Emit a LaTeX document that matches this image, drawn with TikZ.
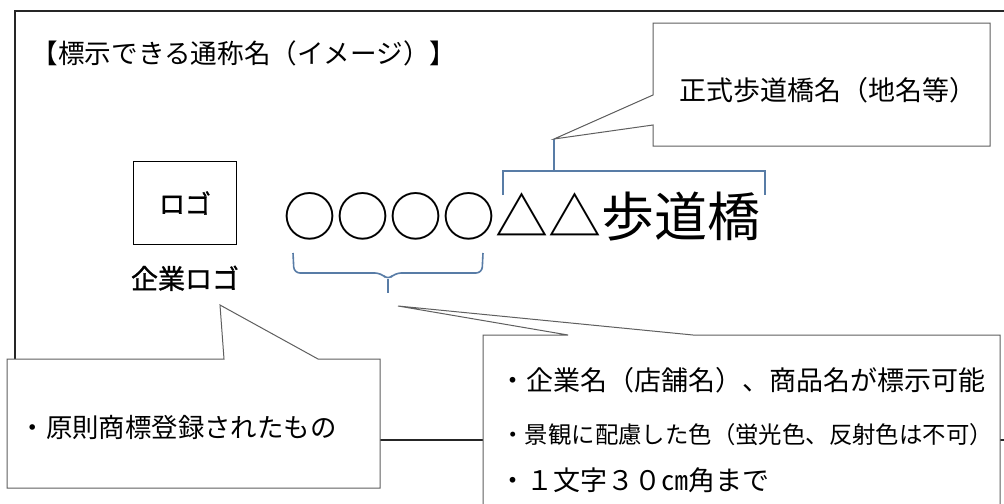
\documentclass[tikz,border=0pt]{standalone}
\usepackage{fontspec}
\setmainfont{Noto Sans CJK JP}
\newfontfamily\semibold[FakeBold=1.2]{Noto Sans CJK JP}
\usetikzlibrary{positioning}
\definecolor{bracecol}{RGB}{88,124,166}
\definecolor{linecol}{RGB}{95,95,95}
\tikzstyle{frame}=[draw=black!85, line width=1.1pt]
\tikzstyle{bubble}=[draw=linecol, fill=white, line width=0.5pt]
\tikzstyle{txt}=[inner sep=0pt, text=black]
\tikzstyle{bracket}=[draw=bracecol, line width=0.8pt]
\newcommand{\fs}[1]{\fontsize{#1}{1.2\dimexpr#1\relax}\selectfont}
\newcommand{\txt}{\node[txt]}

\begin{document}
\begin{tikzpicture}[x=0.5pt, y=-0.5pt]
\useasboundingbox (0,0) rectangle (1004,503);
\fill[white] (0,0) rectangle (1004,503);
\draw[frame] (15,11) rectangle (1012,440);
\txt (title) at (244,53) {\fs{13.3pt}【標示できる通称名（イメージ）】};
% logo
\node[draw=black, line width=0.8pt, minimum width=51.5pt, minimum height=41.5pt,
      inner sep=0pt] (logo) at (185,203) {\fs{13pt}\semibold ロゴ};
\txt (logoname) [below=10pt of logo] {\fs{13.5pt}\semibold 企業ロゴ};
\txt (name) at (522,217) {\fs{26.5pt}○○○○△△歩道橋};
% brackets
\coordinate (bl) at (503,195);
\coordinate (br) at (765,195);
\coordinate (bs) at (554,139);
\coordinate (bt) at (388,293);
\draw[bracket] (bl) |- (br |- 0,171) -- (br);
\draw[bracket] (bs |- 0,171) -- (bs);
\draw[bracket, rounded corners=3pt] (293,253) -- (294,273) -- (381,273)
    -- (bt |- 0,280) -- (395,273) -- (482,273) -- (483,253);
\draw[bracket] (bt |- 0,279) -- (bt);
% upper callout
\coordinate (tipA) at (bs);
\draw[bubble] (653,23) -- (990,23) -- (990,146) -- (653,146) -- (653,125)
    -- (tipA) -- (653,95) -- cycle;
\txt (formal) at (828,90) {\fs{13.5pt}正式歩道橋名（地名等）};
% lower left callout
\coordinate (tipB) at (220,305);
\draw[bubble] (7,359) -- (224,359) -- (tipB) -- (318,359) -- (380,359)
    -- (380,488) -- (7,488) -- cycle;
\txt (rule) at (178,427) {\fs{13.2pt}・原則商標登録されたもの};
% lower right callout
\coordinate (tipC) at (398,306);
\draw[bubble] (483,520) -- (483,335) -- (568,335) -- (tipC) -- (693,335)
    -- (1000,335) -- (1000,520);
\txt (noteA) [anchor=west] at (499,380) {\fs{13.5pt}・企業名（店舗名）、商品名が標示可能};
\txt (noteB) [anchor=west] at (501,435) {\fs{11.7pt}・景観に配慮した色（蛍光色、反射色は不可）};
\txt (noteC) [anchor=west] at (499,480) {\fs{13.5pt}・１文字３０㎝角まで};
\end{tikzpicture}
\end{document}
